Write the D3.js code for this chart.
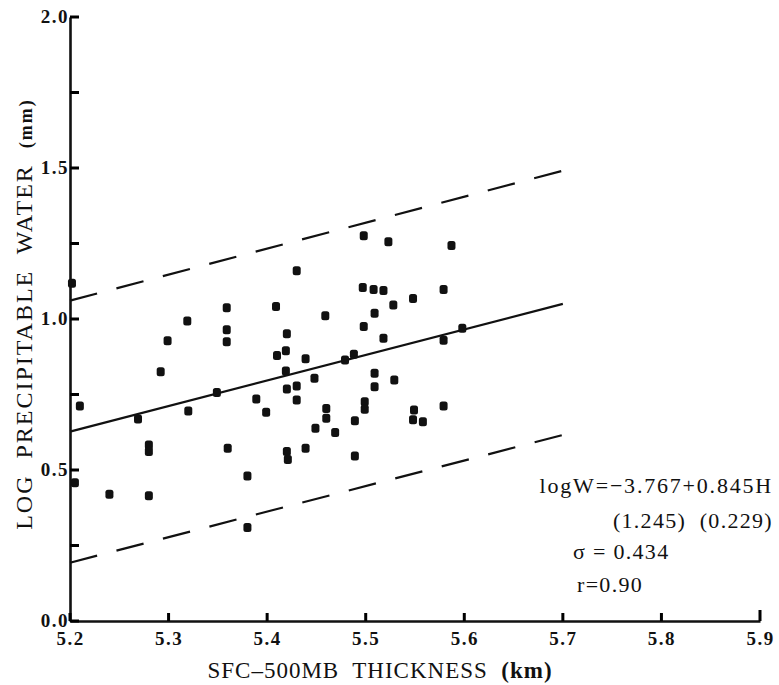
<!DOCTYPE html>
<html>
<head>
<meta charset="utf-8">
<script src="https://cdn.jsdelivr.net/npm/d3@7"></script>
<style>
  body { margin: 0; background: #fff; }
  text { font-family: "Liberation Serif", "DejaVu Serif", serif; fill: #111; }
</style>
</head>
<body>
<svg id="chart"></svg>
<script>
// Observed points: thickness (km) and log precipitable water
const thickness = [5.202, 5.205, 5.210, 5.240, 5.269, 5.280, 5.280, 5.280, 5.292, 5.299,
  5.319, 5.320, 5.349, 5.359, 5.359, 5.359, 5.360, 5.380, 5.380, 5.389,
  5.399, 5.409, 5.410, 5.419, 5.420, 5.419, 5.420, 5.420, 5.421, 5.430,
  5.430, 5.430, 5.439, 5.439, 5.448, 5.449, 5.459, 5.460, 5.460, 5.469,
  5.479, 5.488, 5.489, 5.489, 5.497, 5.498, 5.498, 5.499, 5.499, 5.508,
  5.509, 5.509, 5.509, 5.518, 5.518, 5.523, 5.528, 5.529, 5.548, 5.549,
  5.548, 5.558, 5.579, 5.579, 5.579, 5.587, 5.598];
const logWater = [1.118, 0.458, 0.712, 0.420, 0.669, 0.583, 0.561, 0.415, 0.825, 0.928,
  0.993, 0.695, 0.757, 1.037, 0.964, 0.925, 0.572, 0.480, 0.310, 0.735,
  0.691, 1.041, 0.879, 0.895, 0.951, 0.828, 0.768, 0.561, 0.535, 1.160,
  0.778, 0.732, 0.868, 0.572, 0.804, 0.638, 1.011, 0.704, 0.671, 0.624,
  0.864, 0.883, 0.663, 0.546, 1.104, 1.276, 0.975, 0.726, 0.701, 1.098,
  1.019, 0.820, 0.776, 1.094, 0.936, 1.256, 1.046, 0.798, 1.068, 0.699,
  0.666, 0.660, 1.098, 0.930, 0.712, 1.243, 0.969];

// Regression line and +/- sigma lines (end points at 5.2 and 5.7 km)
const lineX = [5.2, 5.7];
const fitY = [0.627, 1.050];
const upperY = [1.061, 1.491];
const lowerY = [0.193, 0.616];

const xTicks = [5.2, 5.3, 5.4, 5.5, 5.6, 5.7, 5.8, 5.9];
const yTicks = [0, 0.25, 0.5, 0.75, 1.0, 1.25, 1.5, 1.75, 2.0];

const notes = ["logW=\u22123.767+0.845H", "(1.245)  (0.229)", "\u03c3 = 0.434", "r=0.90"];

const W = 779, H = 685;
const margin = {top: 17, right: 19, bottom: 64, left: 70};
const width = W - margin.left - margin.right,
      height = H - margin.top - margin.bottom;

const svg = d3.select("#chart").attr("width", W).attr("height", H);
const g = svg.append("g").attr("transform", "translate(" + margin.left + "," + margin.top + ")");

let x = d3.scaleLinear().domain([5.2, 5.9]).range([0, width]);
let y = d3.scaleLinear().domain([0, 2]).range([height, 0]);

// lines
let line = d3.line().x(d => x(d[0])).y(d => y(d[1]));
const lines = [
  {ys: fitY, dash: null},
  {ys: upperY, dash: "28,20"},
  {ys: lowerY, dash: "28,20"}
];
lines.forEach(function(l) {
  g.append("path")
    .datum(lineX.map((v, i) => [v, l.ys[i]]))
    .attr("d", line)
    .attr("fill", "none")
    .attr("stroke", "#111")
    .attr("stroke-width", 2.2)
    .attr("stroke-dasharray", l.dash);
});

// points
const pts = thickness.map((v, i) => ({x: v, y: logWater[i]}));
g.selectAll(".pt").data(pts).enter().append("rect")
  .attr("class", "pt")
  .attr("x", d => x(d.x) - 4)
  .attr("y", d => y(d.y) - 4.5)
  .attr("width", 8)
  .attr("height", 9)
  .attr("rx", 2.5)
  .attr("fill", "#111");

// axes: labels from bottom/left axes
let xAxis = d3.axisBottom(x).tickValues(xTicks).tickSize(0)
  .tickPadding(14).tickFormat(d3.format(".1f"));
let yAxis = d3.axisLeft(y).tickValues(yTicks).tickSize(0)
  .tickPadding(1).tickFormat(d => (d * 100) % 50 === 0 ? d3.format(".1f")(d) : "");

const gx = g.append("g").attr("transform", "translate(0," + height + ")").call(xAxis);
const gy = g.append("g").call(yAxis);

[gx, gy].forEach(function(a) {
  a.select(".domain").attr("stroke", "#111").attr("stroke-width", 2.6);
  a.selectAll("text").style("font-family", "'Liberation Serif', serif")
    .style("font-size", "19px").style("font-weight", "bold")
    .style("letter-spacing", "1.5px").attr("fill", "#111");
});
gx.selectAll("text").attr("dy", "0.55em");
gy.selectAll("text").attr("dy", "0.3em");

// inward tick marks as one path per axis
let tp = d3.path();
xTicks.forEach(function(t) {
  tp.moveTo(x(t), height);
  tp.lineTo(x(t), height - (t === 5.9 ? 11 : 8));
});
yTicks.forEach(function(t) {
  tp.moveTo(0, y(t));
  tp.lineTo(9, y(t));
});
g.append("path")
  .attr("d", tp.toString())
  .attr("fill", "none")
  .attr("stroke", "#000")
  .attr("stroke-width", 3);

// axis titles
svg.append("text")
  .attr("x", 380)
  .attr("y", 678)
  .attr("text-anchor", "middle")
  .attr("xml:space", "preserve")
  .style("font-size", "23px")
  .style("letter-spacing", "1px")
  .html('SFC\u2013500MB  THICKNESS  <tspan font-weight="bold">(km)</tspan>');

svg.append("text")
  .attr("transform", "translate(32,314) rotate(-90)")
  .attr("text-anchor", "middle")
  .attr("xml:space", "preserve")
  .style("font-size", "24px")
  .style("letter-spacing", "2px")
  .html('LOG  PRECIPITABLE  WATER  <tspan font-weight="bold" font-size="18px">(mm)</tspan>');

// regression notes
const noteX = [773, 773, 573, 577];
const noteY = [493, 528, 559, 592];
const noteAnchor = ["end", "end", "start", "start"];
notes.forEach(function(t, i) {
  svg.append("text")
    .attr("x", noteX[i])
    .attr("y", noteY[i])
    .attr("text-anchor", noteAnchor[i])
    .attr("xml:space", "preserve")
    .style("font-size", "22px")
    .style("letter-spacing", i === 0 ? "1.8px" : "1.3px")
    .text(t);
});
</script>
</body>
</html>
